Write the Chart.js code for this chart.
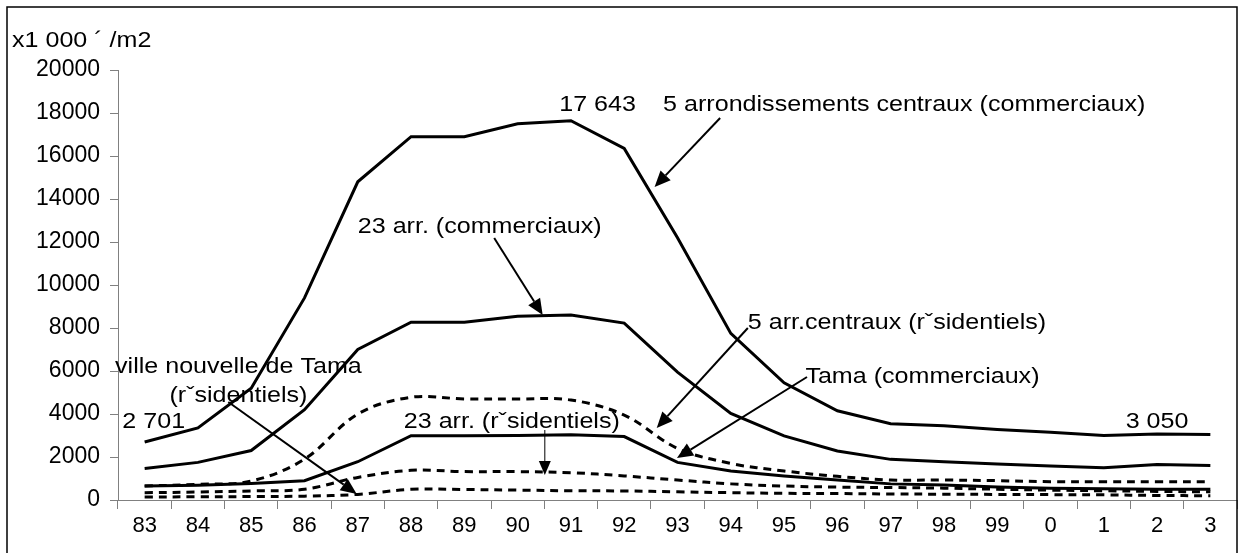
<!DOCTYPE html>
<html>
<head>
<meta charset="utf-8">
<script src="https://cdn.jsdelivr.net/npm/chart.js@4"></script>
<style>
  html, body { margin: 0; padding: 0; background: #fff; }
  #wrap { width: 1246px; height: 553px; }
</style>
</head>
<body>
<div id="wrap"><canvas id="chart"></canvas></div>
<script>
const years = ["83", "84", "85", "86", "87", "88", "89", "90", "91", "92", "93",
    "94", "95", "96", "97", "98", "99", "0", "1", "2", "3"];

// 5 arrondissements centraux (commerciaux)
const centralCommercial = [2701, 3350, 5200, 9400, 14800, 16900, 16900, 17500, 17643, 16350, 12200,
    7750, 5450, 4150, 3550, 3450, 3280, 3150, 3000, 3070, 3050];
// 23 arr. (commerciaux)
const wardsCommercial = [1470, 1750, 2300, 4200, 7000, 8270, 8270, 8550, 8600, 8230, 5950,
    4030, 2980, 2280, 1890, 1780, 1680, 1580, 1500, 1650, 1610];
// 5 arr.centraux (residentiels)
const centralResidential = [650, 730, 880, 1900, 4000, 4780, 4700, 4700, 4650, 3950, 2400,
    1700, 1350, 1100, 930, 930, 900, 850, 850, 850, 850];
// Tama (commerciaux)
const tamaCommercial = [650, 690, 770, 900, 1780, 2990, 2990, 3000, 3030, 2950, 1750,
    1350, 1120, 930, 750, 700, 600, 550, 520, 500, 500];
// 23 arr. (residentiels)
const wardsResidential = [340, 370, 420, 500, 1050, 1380, 1320, 1320, 1270, 1120, 930,
    750, 650, 600, 580, 550, 500, 460, 430, 400, 380];
// ville nouvelle de Tama (residentiels)
const tamaResidential = [140, 150, 160, 180, 260, 500, 490, 460, 430, 420, 380,
    340, 310, 300, 280, 270, 260, 250, 240, 210, 200];

const yTicks = [0, 2000, 4000, 6000, 8000, 10000, 12000, 14000, 16000, 18000, 20000];

// labels and arrows, anchored in data units (category index, value)
const labelTexts = [
    { text: "17 643", x: 8.5, y: 18370, align: "center" },
    { text: "5 arrondissements centraux (commerciaux)", x: 9.73, y: 18370, align: "left" },
    { text: "23 arr. (commerciaux)", x: 4.0, y: 12700, align: "left" },
    { text: "5 arr.centraux (rˇsidentiels)", x: 11.32, y: 8233, align: "left" },
    { text: "Tama (commerciaux)", x: 12.4, y: 5720, align: "left" },
    { text: "ville nouvelle de Tama", x: 1.76, y: 6180, align: "center" },
    { text: "(rˇsidentiels)", x: 1.76, y: 4840, align: "center" },
    { text: "2 701", x: 0.17, y: 3630, align: "center" },
    { text: "3 050", x: 19.0, y: 3630, align: "center" },
    { text: "23 arr. (rˇsidentiels)", x: 6.89, y: 3630, align: "center" },
];
const arrows = [
    { from: [10.80, 17767], to: [9.57, 14558], width: 2 },
    { from: [6.56, 12186], to: [7.47, 8605], width: 2 },
    { from: [11.32, 8000], to: [9.61, 3349], width: 2 },
    { from: [12.43, 5720], to: [9.99, 1953], width: 2 },
    { from: [1.57, 4558], to: [3.98, 279], width: 2 },
    { from: [7.51, 3256], to: [7.51, 1160], width: 1 },
];

const font = "'Liberation Sans', Arial, sans-serif";
const stretch = 1.14;

const annotations = {
    id: "annotations",
    afterDatasetsDraw(chart) {
        const ctx = chart.ctx;
        const xs = chart.scales.x, ys = chart.scales.y;
        ctx.save();
        // outer frame
        ctx.strokeStyle = "#000";
        ctx.lineWidth = 1.5;
        ctx.strokeRect(7, 7, 1230, 560);

        ctx.fillStyle = "#000";
        ctx.font = "22px " + font;
        ctx.textBaseline = "middle";
        const put = (text, x, y, align) => {
            ctx.save();
            ctx.translate(x, y);
            ctx.scale(stretch, 1);
            ctx.textAlign = align;
            ctx.fillText(text, 0, 0);
            ctx.restore();
        };
        put("x1 000 ´ /m2", 12, 41, "left");
        labelTexts.forEach(l => put(l.text, xs.getPixelForValue(l.x), ys.getPixelForValue(l.y), l.align));

        arrows.forEach(a => {
            const x1 = xs.getPixelForValue(a.from[0]), y1 = ys.getPixelForValue(a.from[1]);
            const x2 = xs.getPixelForValue(a.to[0]), y2 = ys.getPixelForValue(a.to[1]);
            const ang = Math.atan2(y2 - y1, x2 - x1);
            const hl = a.width > 1 ? 16 : 14, hw = a.width > 1 ? 7 : 6;
            const bx = x2 - hl * Math.cos(ang), by = y2 - hl * Math.sin(ang);
            ctx.strokeStyle = "#000";
            ctx.lineWidth = a.width;
            ctx.beginPath();
            ctx.moveTo(x1, y1);
            ctx.lineTo(bx, by);
            ctx.stroke();
            ctx.beginPath();
            ctx.moveTo(x2, y2);
            ctx.lineTo(bx + hw * Math.sin(ang), by - hw * Math.cos(ang));
            ctx.lineTo(bx - hw * Math.sin(ang), by + hw * Math.cos(ang));
            ctx.closePath();
            ctx.fill();
        });
        ctx.restore();
    }
};

function line(data, dashed) {
    return {
        data: data,
        borderColor: "#000",
        borderWidth: 3,
        borderDash: dashed ? [8, 6] : [],
        tension: dashed ? 0.35 : 0,
        pointRadius: 0,
        fill: false,
    };
}

new Chart(document.getElementById("chart"), {
    type: "line",
    data: {
        labels: years,
        datasets: [
            line(centralCommercial, false),
            line(wardsCommercial, false),
            line(centralResidential, true),
            line(tamaCommercial, false),
            line(wardsResidential, true),
            line(tamaResidential, true),
        ],
    },
    options: {
        responsive: true,
        maintainAspectRatio: false,
        animation: false,
        layout: { padding: { top: 70, right: 9, left: 0, bottom: 0 } },
        plugins: { legend: { display: false }, tooltip: { enabled: false } },
        scales: {
            x: {
                offset: true,
                grid: { offset: true, drawOnChartArea: false, drawTicks: true, tickLength: 9, color: "#808080" },
                border: { color: "#808080", width: 1 },
                ticks: { color: "#000", font: { family: font, size: 22 }, padding: 4, maxRotation: 0, autoSkip: false },
                afterFit(scale) { scale.height = 53; },
            },
            y: {
                min: 0,
                max: 20000,
                afterBuildTicks(scale) { scale.ticks = yTicks.map(v => ({ value: v })); },
                grid: { drawOnChartArea: false, drawTicks: true, tickLength: 8, color: "#808080" },
                border: { color: "#808080", width: 1 },
                ticks: { color: "#000", font: { family: font, size: 23 }, padding: 10, callback: v => String(v) },
                afterFit(scale) { scale.width = 118; },
            },
        },
    },
    plugins: [annotations],
});
</script>
</body>
</html>
